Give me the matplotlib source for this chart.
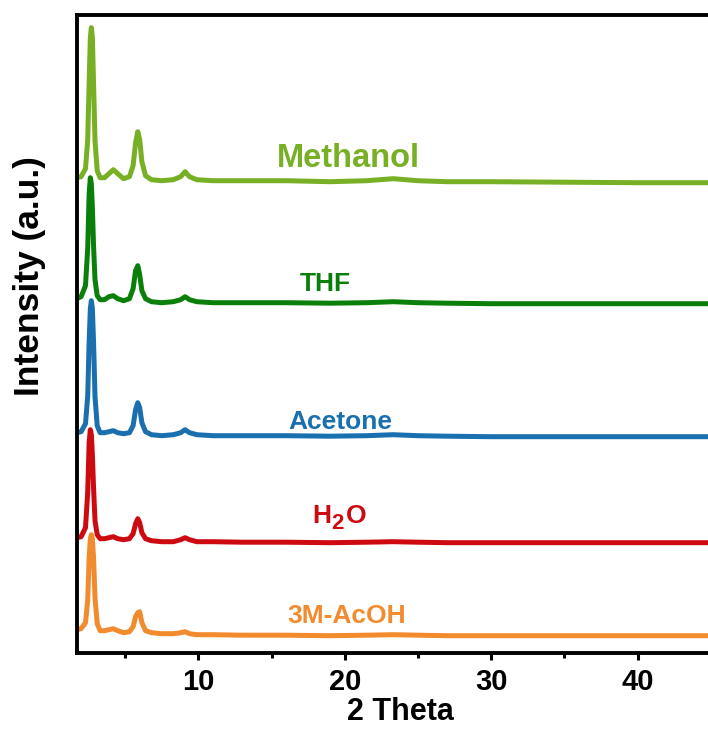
import matplotlib
matplotlib.use("Agg")
import matplotlib.pyplot as plt
from matplotlib.ticker import MultipleLocator

plt.rcParams['font.family'] = ['Liberation Sans', 'DejaVu Sans']

# shared 2-theta grid (degrees)
two_theta = [1.70, 2.0, 2.3, 2.45, 2.55, 2.63, 2.70, 2.77, 2.85, 2.95,
             3.1, 3.3, 3.6, 3.9, 4.2, 4.5, 4.9, 5.3, 5.55, 5.72,
             5.87, 6.0, 6.15, 6.4, 6.8, 7.5, 8.3, 8.8, 9.1, 9.4,
             9.9, 11, 13, 16, 19, 21.5, 23.3, 25, 27, 30,
             35, 40, 45]

acoh = [6, 7, 13, 35, 78, 97, 101, 97, 78, 38,
        12, 5, 5, 6, 7, 5, 3, 4, 9, 19,
        23, 24, 13, 5, 3, 2, 2, 3, 4, 2,
        1, 1, 0.5, 0.5, 0, 0.5, 1, 0.5, 0, 0,
        0, 0, 0]
h2o = [5, 6, 15, 50, 100, 113, 108, 88, 55, 22,
       8, 4, 4, 5, 6, 4, 3, 4, 9, 19,
       24, 20, 10, 4, 2, 1, 1, 3, 5, 3,
       1, 1, 0.5, 0.5, 0, 0.5, 1, 0.5, 0, 0,
       0, 0, 0]
acetone = [4, 5, 13, 40, 95, 128, 136, 128, 95, 40,
           11, 4, 4, 5, 6, 4, 3, 4, 11, 27,
           34, 29, 14, 5, 2, 1, 2, 4, 7, 4,
           2, 1, 1, 1, 0.5, 1, 2, 1, 0.5, 0,
           0, 0, 0]
thf = [5, 7, 18, 55, 110, 126, 120, 96, 58, 24,
       8, 4, 4, 7, 8, 5, 3, 5, 15, 33,
       38, 29, 13, 5, 2, 1, 2, 4, 7, 4,
       2, 1, 1, 1, 0.5, 1, 2, 1, 0.5, 0,
       0, 0, 0]
methanol = [5, 6, 14, 42, 100, 145, 155, 145, 100, 42,
            12, 5, 5, 9, 13, 9, 4, 6, 17, 40,
            51, 43, 21, 7, 3, 2, 3, 6, 11, 6,
            3, 2, 2, 2, 1, 2, 4, 2, 1, 1,
            0.5, 0, 0]

names = ['3M-AcOH', 'H2O', 'Acetone', 'THF', 'Methanol']
series = [acoh, h2o, acetone, thf, methanol]
offsets = [17, 110, 216, 349, 470]
colors = ['#F28A2E', '#CC0A10', '#1A6FAF', '#0A800A', '#77B024']

fig = plt.figure(figsize=(7.08, 7.30), dpi=100)
ax = fig.add_axes([76.7 / 708, 1 - 652.7 / 730, 1 - 76.7 / 708, (652.7 - 15) / 730])

for vals, off, c in zip(series, offsets, colors):
    ax.plot(two_theta, [off + v for v in vals], color=c, lw=3.6,
            solid_joinstyle='round', solid_capstyle='butt')

ax.set_xlim(1.70, 44.8)
ax.set_ylim(0, 637.7)

for s in ['left', 'bottom', 'top']:
    ax.spines[s].set_linewidth(2.8)
ax.spines['right'].set_visible(False)

ax.xaxis.set_major_locator(MultipleLocator(10))
ax.xaxis.set_minor_locator(MultipleLocator(5))
ax.tick_params(axis='x', which='major', direction='out', length=5, width=2.2,
               labelsize=21, pad=6)
ax.tick_params(axis='x', which='minor', direction='out', length=3.5, width=2.2)
ax.set_yticks([])
for lab in ax.get_xticklabels():
    lab.set_fontweight('bold')

# series labels
kw = dict(fontweight='bold', ha='center', va='baseline')
ax.text(20.22, 486, 'Methanol', color=colors[4], fontsize=23.5, **kw)
ax.text(18.7, 362, 'THF', color=colors[3], fontsize=19, **kw)
ax.text(19.68, 223.7, 'Acetone', color=colors[2], fontsize=19, **kw)
ax.text(20.12, 30, '3M-AcOH', color=colors[0], fontsize=19, **kw)

# H2O with subscript
def px2x(px):
    return 1.70 + (px - 76.7) / 14.647

def px2y(py):
    return 652.7 - py

ax.text(px2x(312), px2y(523.3), 'H', color=colors[1], fontsize=19,
        fontweight='bold', ha='left', va='baseline')
ax.text(px2x(331), px2y(529), '2', color=colors[1], fontsize=16,
        fontweight='bold', ha='left', va='baseline')
ax.text(px2x(346), px2y(523.3), 'O', color=colors[1], fontsize=19,
        fontweight='bold', ha='left', va='baseline')

fig.text(30 / 708, 1 - 276.5 / 730, 'Intensity (a.u.)', rotation=90,
         fontsize=25.5, fontweight='bold', ha='center', va='center')
fig.text(400 / 708, 1 - 712 / 730, '2 Theta', fontsize=22,
         fontweight='bold', ha='center', va='center')

fig.savefig('out.png', dpi=100)
